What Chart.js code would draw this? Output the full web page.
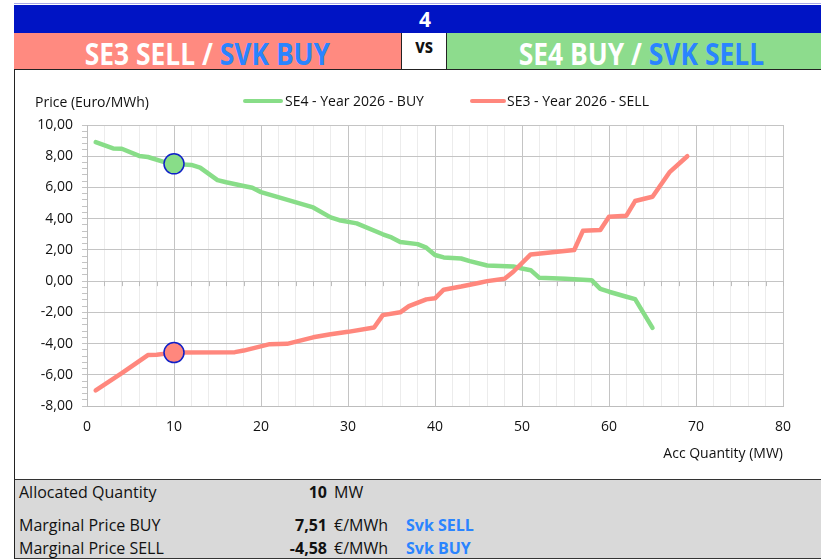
<!DOCTYPE html>
<html>
<head>
<meta charset="utf-8">
<script src="https://cdn.jsdelivr.net/npm/chart.js@4.4.1/dist/chart.umd.min.js"></script>
<style>
  body { margin: 0; width: 821px; height: 560px; overflow: hidden; background: #fff; font-family: 'Open Sans', sans-serif; }
  #page { position: relative; width: 821px; height: 560px; overflow: hidden; }
  .abs { position: absolute; white-space: nowrap; }
  .band { position: absolute; left: 14px; top: 5px; width: 822px; height: 28px; background: #0014c4; color: #fff;
          font: bold 21px 'Open Sans', sans-serif; text-align: center; line-height: 28px; }
  .cell { position: absolute; top: 33px; height: 36px; line-height: 36px; text-align: center; border-bottom: 1.5px solid #222;
          font: bold 30px 'Open Sans', sans-serif; color: #fff; white-space: nowrap; }
  .cell .sq { display: inline-block; transform: scaleX(0.88); }
  .blue { color: #2a84ff; }
  #chartBox { position: absolute; left: 14px; top: 70px; width: 822px; height: 410px; border-left: 1.5px solid #222; }
  #table { position: absolute; left: 14px; top: 479px; width: 822px; height: 78px; background: #d9d9d9;
           border-top: 1.5px solid #333; border-bottom: 1.5px solid #333; border-left: 1.5px solid #222; font-size: 16px; color: #111; }
  .row { position: absolute; height: 22px; line-height: 22px; }
  .legline { position: absolute; height: 4px; border-radius: 2px; }
  .chtxt { position: absolute; font-size: 14px; line-height: 18px; color: #111; white-space: nowrap; }
</style>
</head>
<body>
<div id="page">
  <div class="abs" style="left:14px;top:3px;width:822px;height:1px;background:#a9a9e8;"></div>
  <div class="band">4</div>
  <div class="cell" style="left:14px;width:387px;background:#ff8a80;"><span class="sq">SE3 SELL / <span class="blue">SVK BUY</span></span></div>
  <div class="cell" style="left:401px;width:44px;background:#fff;color:#111;font-size:19px;border-left:1.5px solid #222;border-right:1.5px solid #222;"><span class="sq">vs</span></div>
  <div class="cell" style="left:447px;width:389px;background:#8ddc8d;"><span class="sq">SE4 BUY / <span class="blue">SVK SELL</span></span></div>

  <div id="chartBox"><canvas id="curveChart" width="822" height="410"></canvas></div>

  <div class="chtxt" style="left:35px;top:93px;">Price (Euro/MWh)</div>
  <div class="legline" style="left:243px;top:99px;width:40px;background:#88dd88;"></div>
  <div class="chtxt" id="legBuy" style="left:285px;top:92px;"></div>
  <div class="legline" style="left:470px;top:99px;width:36px;background:#ff877d;"></div>
  <div class="chtxt" id="legSell" style="left:507px;top:92px;"></div>

  <div id="table">
    <div class="row" style="left:4px;top:1px;">Allocated Quantity</div>
    <div class="row" id="qtyVal" style="left:190px;width:122px;top:1px;text-align:right;font-weight:bold;"></div>
    <div class="row" style="left:319px;top:1px;">MW</div>

    <div class="row" style="left:4px;top:34px;">Marginal Price BUY</div>
    <div class="row" id="buyVal" style="left:190px;width:122px;top:34px;text-align:right;font-weight:bold;"></div>
    <div class="row" style="left:319px;top:34px;">€/MWh</div>
    <div class="row blue" style="left:391px;top:34px;font-weight:bold;">Svk SELL</div>

    <div class="row" style="left:4px;top:57px;">Marginal Price SELL</div>
    <div class="row" id="sellVal" style="left:190px;width:122px;top:57px;text-align:right;font-weight:bold;"></div>
    <div class="row" style="left:319px;top:57px;">€/MWh</div>
    <div class="row blue" style="left:391px;top:57px;font-weight:bold;">Svk BUY</div>
  </div>
</div>

<script>
// SE4 - BUY curve (descending)
const buyQty = [1, 3, 4, 6, 7, 9, 10, 12, 13, 15, 16, 18, 19, 20, 26, 28, 29, 31, 34, 35,
                36, 38, 39, 40, 41, 43, 44, 46, 49, 50, 51, 52, 55, 58, 59, 60, 62, 63, 65];
const buyPrice = [8.9, 8.5, 8.48, 8.02, 7.95, 7.6, 7.51, 7.44, 7.27, 6.47, 6.33, 6.09, 5.98, 5.7, 4.72, 4.08, 3.9, 3.7, 3.0, 2.8,
                  2.5, 2.37, 2.14, 1.67, 1.52, 1.45, 1.28, 1.0, 0.94, 0.81, 0.7, 0.21, 0.15, 0.06, -0.5, -0.68, -1.0, -1.15, -3.0];

// SE3 - SELL curve (ascending)
const sellQty = [1, 4, 7, 8, 10, 17, 18, 21, 23, 26, 28, 30, 33, 34, 36, 37, 39, 40, 41, 43,
                 45, 46, 48, 49, 51, 56, 57, 59, 60, 62, 63, 65, 67, 69];
const sellPrice = [-7.0, -5.9, -4.74, -4.72, -4.58, -4.55, -4.45, -4.04, -4.02, -3.6, -3.4, -3.25, -2.97, -2.18, -2.0, -1.6, -1.17, -1.1, -0.55, -0.35,
                   -0.12, 0.0, 0.15, 0.6, 1.71, 1.99, 3.22, 3.27, 4.12, 4.19, 5.13, 5.4, 7.0, 8.0];

const seriesNames = ['SE4 - Year 2026 - BUY', 'SE3 - Year 2026 - SELL'];
const allocatedQty = 10;
const marginalBuy = 7.51;
const marginalSell = -4.58;

const verde = '#88dd88';
const salmao = '#ff877d';
const azulBorda = '#1020c8';

const fmt = v => v.toFixed(2).replace('.', ',');

document.getElementById('legBuy').textContent = seriesNames[0];
document.getElementById('legSell').textContent = seriesNames[1];
document.getElementById('qtyVal').textContent = allocatedQty;
document.getElementById('buyVal').textContent = fmt(marginalBuy);
document.getElementById('sellVal').textContent = fmt(marginalSell);

Chart.defaults.font.family = "'Open Sans', sans-serif";
Chart.defaults.font.size = 14;
Chart.defaults.color = '#111';

// small tick marks where the x gridlines cross the 0 line
const zeroTicks = {
  id: 'zeroTicks',
  beforeDatasetsDraw(chart) {
    const ctx = chart.ctx;
    const x = chart.scales.x, y = chart.scales.y;
    const y0 = y.getPixelForValue(0);
    ctx.save();
    ctx.strokeStyle = '#bdbdbd';
    ctx.lineWidth = 1;
    x.ticks.forEach(t => {
      const px = Math.round(x.getPixelForValue(t.value)) + 0.5;
      ctx.beginPath();
      ctx.moveTo(px, y0);
      ctx.lineTo(px, y0 + 5);
      ctx.stroke();
    });
    ctx.restore();
  }
};

const ctx = document.getElementById('curveChart').getContext('2d');
new Chart(ctx, {
  type: 'scatter',
  data: {
    datasets: [
      {
        label: 'buyMarker',
        data: [{ x: allocatedQty, y: marginalBuy }],
        pointRadius: 10,
        backgroundColor: verde,
        borderColor: azulBorda,
        borderWidth: 1.5,
        order: 0
      },
      {
        label: 'sellMarker',
        data: [{ x: allocatedQty, y: marginalSell }],
        pointRadius: 10,
        backgroundColor: salmao,
        borderColor: azulBorda,
        borderWidth: 1.5,
        order: 0
      },
      {
        label: seriesNames[1],
        data: sellQty.map((q, i) => ({ x: q, y: sellPrice[i] })),
        showLine: true,
        borderColor: salmao,
        borderWidth: 4.5,
        borderCapStyle: 'round',
        borderJoinStyle: 'round',
        pointRadius: 0,
        tension: 0,
        order: 1
      },
      {
        label: seriesNames[0],
        data: buyQty.map((q, i) => ({ x: q, y: buyPrice[i] })),
        showLine: true,
        borderColor: verde,
        borderWidth: 4.5,
        borderCapStyle: 'round',
        borderJoinStyle: 'round',
        pointRadius: 0,
        tension: 0,
        order: 2
      }
    ]
  },
  options: {
    responsive: false,
    animation: false,
    devicePixelRatio: 1,
    layout: { padding: { top: 55, right: 54, bottom: 0, left: 0 } },
    plugins: {
      legend: { display: false },
      tooltip: { enabled: false }
    },
    scales: {
      x: {
        type: 'linear',
        min: 0,
        max: 80,
        afterFit: s => { s.height = 74; },
        ticks: {
          stepSize: 2,
          autoSkip: false,
          maxRotation: 0,
          padding: 13,
          callback: v => (v % 10 === 0 ? v : '')
        },
        grid: {
          drawTicks: false,
          color: c => (c.tick && c.tick.value % 10 === 0 ? '#c4c4c4' : '#ececec')
        },
        border: { color: '#bdbdbd' },
        title: {
          display: true,
          text: 'Acc Quantity (MW)',
          align: 'end',
          padding: { top: 0, bottom: 18 }
        }
      },
      y: {
        min: -8,
        max: 10,
        afterFit: s => { s.width = 72; },
        ticks: {
          stepSize: 0.4,
          autoSkip: false,
          padding: 9,
          callback: v => (Math.abs(v / 2 - Math.round(v / 2)) < 1e-6 ? fmt(v) : '')
        },
        grid: {
          tickLength: 5,
          color: c => (c.tick && Math.abs(c.tick.value / 2 - Math.round(c.tick.value / 2)) < 1e-6 ? '#c4c4c4' : 'rgba(0,0,0,0)'),
          tickColor: '#c4c4c4'
        },
        border: { color: '#bdbdbd' }
      }
    }
  },
  plugins: [zeroTicks]
});
</script>
</body>
</html>
